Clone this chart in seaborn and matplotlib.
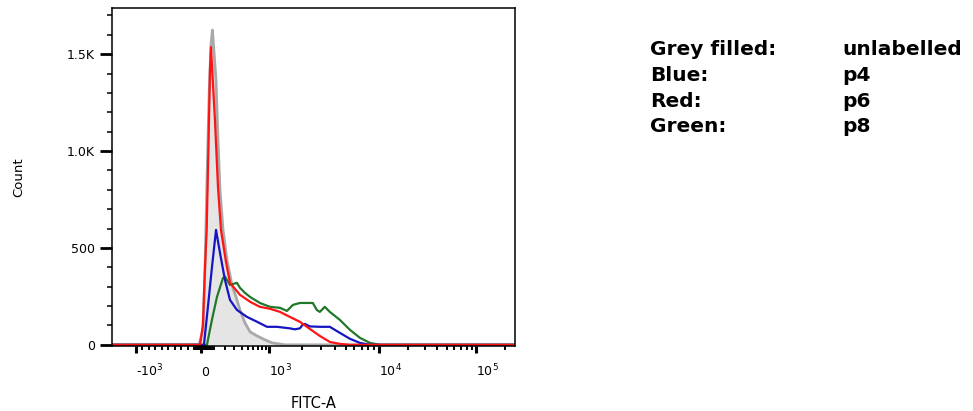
import numpy as np
import pandas as pd
import matplotlib
matplotlib.use("Agg")
import matplotlib.pyplot as plt
import seaborn as sns

# ---------------- data (FITC-A value, count) ----------------
grey_x = [-1400, -31, 15, 31, 46.5, 62, 78, 90, 120, 137, 155, 183, 222, 276, 325,
          378, 453, 540, 680, 880, 1070, 1404, 260000]
grey_y = [0, 0, 77, 387, 851, 1263, 1546, 1624, 1366, 1057, 799, 593, 438, 309, 247,
          180, 113, 67, 46, 26, 10, 0, 0]

red_x = [-1400, -15, 15, 31, 44, 57, 70, 78, 95, 111, 137, 164, 212, 254, 378, 540,
         748, 1022, 1264, 1559, 1922, 2368, 2917, 3593, 4424, 5472, 260000]
red_y = [0, 0, 103, 400, 593, 990, 1418, 1536, 1340, 1160, 814, 593, 428, 320, 258, 222,
         196, 186, 170, 144, 119, 82, 46, 15, 5, 0, 0]

blue_x = [-1400, 23, 31, 57, 84, 120, 155, 202, 254, 337, 486, 680, 938, 1186, 1559,
          1731, 1922, 2047, 2134, 2368, 2917, 3593, 4424, 5472, 6735, 8293, 260000]
blue_y = [0, 0, 52, 216, 387, 593, 474, 335, 232, 180, 144, 119, 93, 93, 85,
          80, 85, 105, 108, 95, 93, 93, 62, 31, 10, 0, 0]

green_x = [-1400, 46.5, 54, 86, 128, 183, 202, 254, 337, 378, 453, 540, 748, 1022, 1264,
           1464, 1660, 1922, 2368, 2520, 2740, 2917, 3238, 3593, 4424, 5472, 6735, 8293,
           10240, 260000]
green_y = [0, 0, 26, 129, 247, 345, 351, 309, 320, 294, 268, 247, 216, 196, 191,
           175, 206, 216, 216, 216, 180, 170, 196, 170, 129, 77, 36, 10, 0, 0]

samples = ["unlabelled", "p8", "p4", "p6"]
colors = {"unlabelled": "#a9a9a9", "p8": "#21782a", "p4": "#1515c4", "p6": "#ff1414"}

x_ticks = [-1000, 0, 1000, 10000, 100000]
x_ticklabels = ["-$10^{3}$", "0", "$10^{3}$", "$10^{4}$", "$10^{5}$"]
y_ticks = [0, 500, 1000, 1500]
y_ticklabels = ["0", "500", "1.0K", "1.5K"]

legend_left = ["Grey filled:", "Blue:", "Red:", "Green:"]
legend_right = ["unlabelled", "p4", "p6", "p8"]

# ---------------- biexponential-like axis scale ----------------
_P_ANCH = np.array([-650.0, -65.0, 0.0, 68.0, 178.0, 275.0, 372.0])


def _base_t(x):
    x = np.asarray(x, dtype=float)
    return np.where(x < 0, x / 1000.0 * np.arcsinh(4.0),
                    np.arcsinh(np.maximum(x, 0) / 250.0))


_T_ANCH = _base_t([-1e4, -1e3, 0, 1e3, 1e4, 1e5, 1e6])


def biex_forward(x):
    return np.interp(_base_t(x), _T_ANCH, _P_ANCH)


def biex_inverse(p):
    t = np.interp(np.asarray(p, dtype=float), _P_ANCH, _T_ANCH)
    return np.where(t < 0, t / np.arcsinh(4.0) * 1000.0,
                    250.0 * np.sinh(np.maximum(t, 0)))


# ---------------- build long data ----------------
frames = []
for name, xs, ys in [("unlabelled", grey_x, grey_y), ("p8", green_x, green_y),
                     ("p4", blue_x, blue_y), ("p6", red_x, red_y)]:
    frames.append(pd.DataFrame({"FITC-A": xs, "Count": ys, "sample": name}))
df = pd.concat(frames, ignore_index=True)

sns.set_style("ticks")
plt.rcParams["font.family"] = ["DejaVu Sans"]
plt.rcParams["mathtext.fontset"] = "dejavusans"

fig = plt.figure(figsize=(9.73, 4.11), dpi=100)
ax = fig.add_axes([112 / 973, 1 - 346 / 411, 403 / 973, 338 / 411])

gsub = df[df["sample"] == "unlabelled"]
ax.fill_between(gsub["FITC-A"], 0, gsub["Count"], color="#e5e5e5", lw=0, zorder=1)

for name, lw in [("unlabelled", 2.0), ("p8", 1.6), ("p4", 1.6), ("p6", 1.6)]:
    sns.lineplot(data=df[df["sample"] == name], x="FITC-A", y="Count",
                 color=colors[name], lw=lw, sort=False, estimator=None,
                 ax=ax, zorder=2, legend=False)

ax.set_xscale("function", functions=(biex_forward, biex_inverse))
ax.set_xlim(-1369, 252500)
ax.set_ylim(-6, 1738)

minor_x = ([-900, -800, -700, -600, -500, -400, -300, -200, -100]
           + list(range(-90, 0, 10)) + list(range(10, 100, 10))
           + list(range(100, 1000, 100)) + list(range(2000, 10000, 1000))
           + list(range(20000, 100000, 10000)) + [200000])
ax.set_xticks(x_ticks)
ax.set_xticklabels(x_ticklabels)
ax.set_xticks(minor_x, minor=True)
ax.set_yticks(y_ticks)
ax.set_yticklabels(y_ticklabels)
ax.set_yticks(list(range(100, 1800, 100)), minor=True)

ax.tick_params(axis="x", which="major", length=5, width=2.2, pad=16.5,
               labelsize=9, direction="out", colors="black")
ax.tick_params(axis="x", which="minor", length=3, width=1.4, direction="out",
               colors="black")
ax.tick_params(axis="y", which="major", length=8.5, width=2.0, pad=4,
               labelsize=9, direction="out", colors="black")
ax.tick_params(axis="y", which="minor", length=3.6, width=1.1, direction="out",
               colors="black")
for lab in ax.get_xticklabels():
    lab.set_verticalalignment("baseline")
    lab.set_horizontalalignment("left")

for s in ax.spines.values():
    s.set_linewidth(1.1)
    s.set_color("black")

ax.set_xlabel("FITC-A", fontsize=10.5, color="black")
ax.set_ylabel("Count", fontsize=9.5, color="black")
ax.xaxis.set_label_coords(0.5, -0.148)
ax.yaxis.set_label_coords(-0.216, 0.5)

baselines = [55, 81, 107, 132]
for left, right, yb in zip(legend_left, legend_right, baselines):
    fig.text(650 / 973, 1 - yb / 411, left, fontsize=14.5, fontweight="bold",
             family=["DejaVu Sans"], va="baseline", ha="left", color="black")
    fig.text(842 / 973, 1 - yb / 411, right, fontsize=14.5, fontweight="bold",
             family=["DejaVu Sans"], va="baseline", ha="left", color="black")

fig.savefig("out.png", dpi=100)
